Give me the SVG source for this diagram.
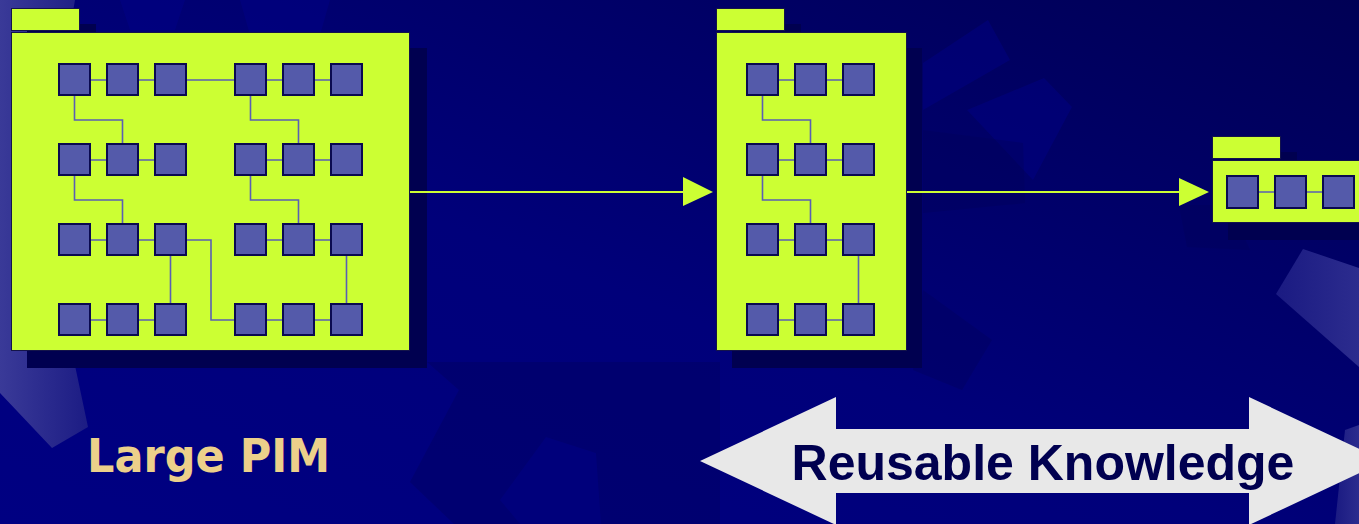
<svg xmlns="http://www.w3.org/2000/svg" width="1359" height="524" viewBox="0 0 1359 524">
<defs>
<linearGradient id="bg" x1="0" y1="1" x2="1" y2="0">
<stop offset="0" stop-color="#000082"/>
<stop offset="0.45" stop-color="#00007a"/>
<stop offset="1" stop-color="#000055"/>
</linearGradient>
<linearGradient id="lite" x1="0" y1="0" x2="1" y2="0">
<stop offset="0" stop-color="#3a3a98"/>
<stop offset="1" stop-color="#1c1c84"/>
</linearGradient>
<linearGradient id="lite2" x1="0" y1="0" x2="1" y2="0">
<stop offset="0" stop-color="#1a1a82"/>
<stop offset="1" stop-color="#2c2c8e"/>
</linearGradient>
<style>
.pkg{fill:#ccff33;stroke:#14144a;stroke-width:1}
.shd{fill:#000050}
.sq{fill:#545aaa;stroke:#0a0a50;stroke-width:2}
.w{fill:none;stroke:#5a5fb4;stroke-width:1.6}
.flow{stroke:#ccff33;stroke-width:2.2;fill:none}
.head{fill:#ccff33}
.dk{fill:#000058;opacity:0.35}
.lt{fill:#00008c;opacity:0.4}
</style>
</defs>

<g id="background">
<rect width="1359" height="524" fill="url(#bg)"/>
<polygon class="lt" points="120,0 185,0 175,30 130,30"/>
<polygon class="lt" points="240,0 330,0 320,35 250,35"/>
<polygon class="dk" points="427,362 459,390 410,482 454,524 720,524 720,362"/>
<polygon class="lt" points="546,437 596,453 601,524 520,524 500,500"/>
<polygon class="lt" points="967,110 1044,78 1072,107 1033,180"/>
<polygon class="dk" points="923,130 1023,143 1025,203 923,213"/>
<polygon class="dk" points="923,290 992,340 962,390 913,370"/>
<polygon class="lt" points="923,63 988,20 1010,60 923,110"/>
<polygon class="dk" points="1179,205 1230,205 1250,250 1187,247"/>
<polygon fill="url(#lite)" points="0,0 75,0 40,200 88,427 52,448 0,393"/>
<polygon fill="url(#lite2)" points="1303,249 1359,268 1359,367 1276,294"/>
<polygon fill="url(#lite2)" points="1345,430 1359,425 1359,524 1335,524"/>
</g>

<g id="shadows">
<rect class="shd" x="27" y="24" width="69" height="23"/>
<rect class="shd" x="27" y="48" width="400" height="320"/>
<rect class="shd" x="732" y="24" width="69" height="23"/>
<rect class="shd" x="732" y="48" width="190" height="320"/>
<rect class="shd" x="1228" y="152" width="69" height="23"/>
<rect class="shd" x="1228" y="176" width="140" height="64"/>
</g>

<g id="connectors">
<path class="flow" d="M410 192 H686"/>
<polygon class="head" points="683,177 713,192 683,206"/>
<path class="flow" d="M906 192 H1181"/>
<polygon class="head" points="1179,178 1209,192 1179,206"/>
</g>

<g id="large-pim">
<rect class="pkg" x="11.5" y="8.5" width="68" height="22"/>
<rect class="pkg" x="11.5" y="32.5" width="398" height="318"/>
<path class="w" d="M74.5 80 H346.5 M74.5 160 H170.5 M250.5 160 H346.5 M74.5 240 H170.5 M250.5 240 H346.5 M74.5 320 H170.5 M250.5 320 H346.5 M74.5 80 V120 H122.5 V160 M250.5 80 V120 H298.5 V160 M74.5 160 V200 H122.5 V240 M250.5 160 V200 H298.5 V240 M170.5 240 V320 M346.5 240 V320 M170.5 240 H211 V320 H250.5"/>
<g>
<rect class="sq" x="59" y="64" width="31" height="31"/><rect class="sq" x="107" y="64" width="31" height="31"/><rect class="sq" x="155" y="64" width="31" height="31"/><rect class="sq" x="235" y="64" width="31" height="31"/><rect class="sq" x="283" y="64" width="31" height="31"/><rect class="sq" x="331" y="64" width="31" height="31"/>
<rect class="sq" x="59" y="144" width="31" height="31"/><rect class="sq" x="107" y="144" width="31" height="31"/><rect class="sq" x="155" y="144" width="31" height="31"/><rect class="sq" x="235" y="144" width="31" height="31"/><rect class="sq" x="283" y="144" width="31" height="31"/><rect class="sq" x="331" y="144" width="31" height="31"/>
<rect class="sq" x="59" y="224" width="31" height="31"/><rect class="sq" x="107" y="224" width="31" height="31"/><rect class="sq" x="155" y="224" width="31" height="31"/><rect class="sq" x="235" y="224" width="31" height="31"/><rect class="sq" x="283" y="224" width="31" height="31"/><rect class="sq" x="331" y="224" width="31" height="31"/>
<rect class="sq" x="59" y="304" width="31" height="31"/><rect class="sq" x="107" y="304" width="31" height="31"/><rect class="sq" x="155" y="304" width="31" height="31"/><rect class="sq" x="235" y="304" width="31" height="31"/><rect class="sq" x="283" y="304" width="31" height="31"/><rect class="sq" x="331" y="304" width="31" height="31"/>
</g>
</g>

<g id="medium-pim">
<rect class="pkg" x="716.5" y="8.5" width="68" height="22"/>
<rect class="pkg" x="716.5" y="32.5" width="190" height="318"/>
<path class="w" d="M762.5 80 H858.5 M762.5 160 H858.5 M762.5 240 H858.5 M762.5 320 H858.5 M762.5 80 V120 H810.5 V160 M762.5 160 V200 H810.5 V240 M858.5 240 V320"/>
<rect class="sq" x="747" y="64" width="31" height="31"/><rect class="sq" x="795" y="64" width="31" height="31"/><rect class="sq" x="843" y="64" width="31" height="31"/>
<rect class="sq" x="747" y="144" width="31" height="31"/><rect class="sq" x="795" y="144" width="31" height="31"/><rect class="sq" x="843" y="144" width="31" height="31"/>
<rect class="sq" x="747" y="224" width="31" height="31"/><rect class="sq" x="795" y="224" width="31" height="31"/><rect class="sq" x="843" y="224" width="31" height="31"/>
<rect class="sq" x="747" y="304" width="31" height="31"/><rect class="sq" x="795" y="304" width="31" height="31"/><rect class="sq" x="843" y="304" width="31" height="31"/>
</g>

<g id="small-pim">
<rect class="pkg" x="1212.5" y="136.5" width="68" height="22"/>
<rect class="pkg" x="1212.5" y="160.5" width="160" height="62"/>
<path class="w" d="M1242.5 192 H1338.5"/>
<rect class="sq" x="1227" y="176" width="31" height="32"/><rect class="sq" x="1275" y="176" width="31" height="32"/><rect class="sq" x="1323" y="176" width="31" height="32"/>
</g>

<g id="label-large-pim">
<text x="87" y="472" font-family="DejaVu Sans, Verdana, sans-serif" font-weight="bold" font-size="46" fill="#ecd08a" textLength="243" lengthAdjust="spacingAndGlyphs">Large PIM</text>
</g>

<g id="reusable-knowledge">
<polygon fill="#e8e8e8" points="700,461 836,397 836,429 1249,429 1249,397 1385,461 1249,525 1249,493 836,493 836,525"/>
<text x="1043" y="480" text-anchor="middle" font-family="Liberation Sans, Arial, sans-serif" font-weight="bold" font-size="50" fill="#000050">Reusable Knowledge</text>
</g>
</svg>
